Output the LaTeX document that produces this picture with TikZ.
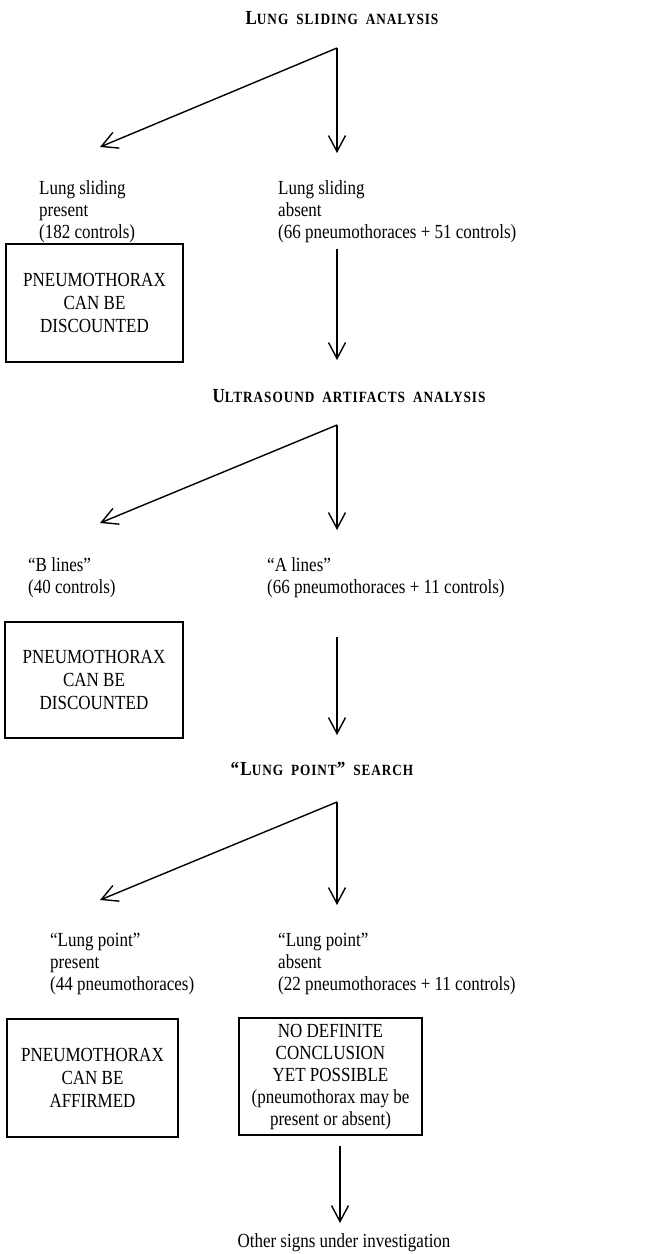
\documentclass[tikz,border=0pt]{standalone}
\usepackage{fontspec}
\setmainfont{Liberation Serif}[FakeStretch=0.85]
\newfontfamily\titlefont{Liberation Serif}[FakeStretch=0.85,LetterSpace=6]
\usetikzlibrary{arrows.meta}
\newcommand{\smc}[1]{{\fontsize{15.6}{15.6}\selectfont #1}}
\newcommand{\tgap}{\hspace{8pt}}
\begin{document}
\begin{tikzpicture}[x=1pt,y=-1pt,
  lab/.style={anchor=north west, inner sep=0pt, align=left, font=\fontsize{20}{22}\selectfont},
  box/.style={draw, line width=1.6pt, align=center, inner sep=0pt, font=\fontsize{20}{23}\selectfont},
  ttl/.style={inner sep=0pt, anchor=base, font=\titlefont\bfseries\fontsize{20}{22}\selectfont},
  arr/.style={line width=1.4pt, -{Straight Barb[length=16pt,width=17pt]}},
  plain/.style={line width=1.4pt}]
\useasboundingbox (0,0) rectangle (666,1254);
\fill[white] (0,0) rectangle (666,1254);

% titles
\node[ttl] (t1) at (342,24) {L\smc{UNG}\tgap\smc{SLIDING}\tgap\smc{ANALYSIS}};
\node[ttl] (t2) at (349,402) {U\smc{LTRASOUND}\tgap\smc{ARTIFACTS}\tgap\smc{ANALYSIS}};
\node[ttl] (t3) at (322,775) {“L\smc{UNG}\tgap\smc{POINT}”\tgap\smc{SEARCH}};

% level 1
\coordinate (a1) at (337,48);
\coordinate (a1l) at (100,147);
\coordinate (a1d) at (337,153);
\draw[arr] (a1) -- (a1l);
\draw[arr] (a1) -- (a1d);
\node[lab] (lspres) at (39,180) {Lung sliding\\present\\(182 controls)};
\node[lab] (lsabs) at (278,180) {Lung sliding\\absent\\(66 pneumothoraces + 51 controls)};
\node[box, minimum width=177pt, minimum height=118pt] (b1) at (94.5,303) {PNEUMOTHORAX\\CAN BE\\DISCOUNTED};
\coordinate (v1s) at (337,249);
\coordinate (v1e) at (337,360);
\draw[arr] (v1s) -- (v1e);

% level 2
\coordinate (a2) at (337,425);
\coordinate (a2l) at (100,523);
\coordinate (a2d) at (337,530);
\draw[arr] (a2) -- (a2l);
\draw[arr] (a2) -- (a2d);
\node[lab] (bl) at (28,557) {“B lines”\\(40 controls)};
\node[lab] (al) at (267,557) {“A lines”\\(66 pneumothoraces + 11 controls)};
\node[box, minimum width=178pt, minimum height=116pt] (b2) at (94,680) {PNEUMOTHORAX\\CAN BE\\DISCOUNTED};
\coordinate (v2s) at (337,637);
\coordinate (v2e) at (337,735);
\draw[arr] (v2s) -- (v2e);

% level 3
\coordinate (a3) at (337,802);
\coordinate (a3l) at (100,900);
\coordinate (a3d) at (337,905);
\draw[arr] (a3) -- (a3l);
\draw[arr] (a3) -- (a3d);
\node[lab] (lppres) at (50,933) {“Lung point”\\present\\(44 pneumothoraces)};
\node[lab] (lpabs) at (278,933) {“Lung point”\\absent\\(22 pneumothoraces + 11 controls)};
\node[box, minimum width=171pt, minimum height=118pt] (b3) at (92.5,1078) {PNEUMOTHORAX\\CAN BE\\AFFIRMED};
\node[box, minimum width=183pt, minimum height=117pt, font=\fontsize{20}{22}\selectfont] (b4) at (330.5,1076.5) {NO DEFINITE\\CONCLUSION\\YET POSSIBLE\\(pneumothorax may be\\present or absent)};
\coordinate (v3e) at (340,1223);
\draw[arr] (b4.south -| v3e) ++(0,10) -- (v3e);
\node[inner sep=0pt, anchor=base, font=\fontsize{20}{22}\selectfont] (other) at (344,1247) {Other signs under investigation};
\end{tikzpicture}
\end{document}
